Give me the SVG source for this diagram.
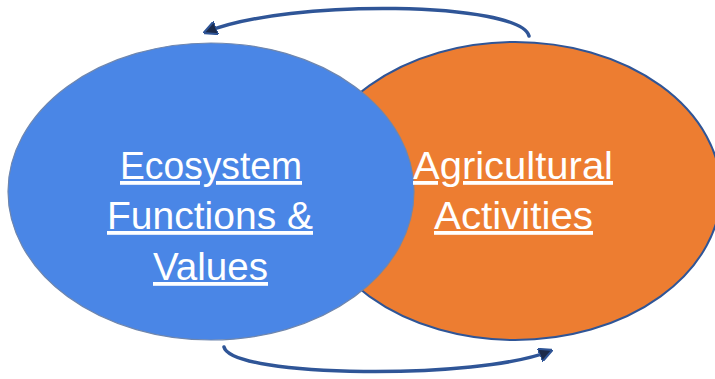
<svg xmlns="http://www.w3.org/2000/svg" width="715" height="379" viewBox="0 0 715 379">
  <defs>
    <marker id="head" viewBox="0 0 10 10" refX="8" refY="5" markerWidth="4" markerHeight="4" orient="auto" markerUnits="strokeWidth">
      <path d="M0,0 L10,5 L0,10 z" fill="#1b2a4a" stroke="#2F5597" stroke-width="1.5"/>
    </marker>
  </defs>
  <style>
    .label { font-family: "Liberation Sans", Arial, sans-serif; font-size: 38px; fill: #ffffff; text-anchor: middle; text-decoration: underline; }
    .cycle { fill: none; stroke: #2F5597; stroke-width: 3.5; stroke-linecap: round; marker-end: url(#head); }
  </style>
  <rect width="715" height="379" fill="#ffffff"/>

  <g id="agricultural-activities">
    <ellipse cx="515" cy="191" rx="206" ry="149" fill="#ED7D31" stroke="#2F5597" stroke-width="2"/>
  </g>

  <g id="ecosystem-functions">
    <ellipse cx="211" cy="191.5" rx="203" ry="148.5" fill="#4A86E6" stroke="#6f86ad" stroke-width="1.2"/>
  </g>

  <g id="labels">
    <text class="label" x="211" y="179" textLength="182" lengthAdjust="spacingAndGlyphs">Ecosystem</text>
    <text class="label" x="210" y="229" textLength="206" lengthAdjust="spacingAndGlyphs">Functions &amp;</text>
    <text class="label" x="210.5" y="280" textLength="115" lengthAdjust="spacingAndGlyphs">Values</text>
    <text class="label" x="513" y="179" textLength="200" lengthAdjust="spacingAndGlyphs">Agricultural</text>
    <text class="label" x="513.5" y="229" textLength="159" lengthAdjust="spacingAndGlyphs">Activities</text>
  </g>

  <g id="connectors">
    <path class="cycle" d="M 529 36 C 520 2, 290 -2, 206 32"/>
    <path class="cycle" d="M 224 347 C 232 378, 480 380, 550 351"/>
  </g>
</svg>
